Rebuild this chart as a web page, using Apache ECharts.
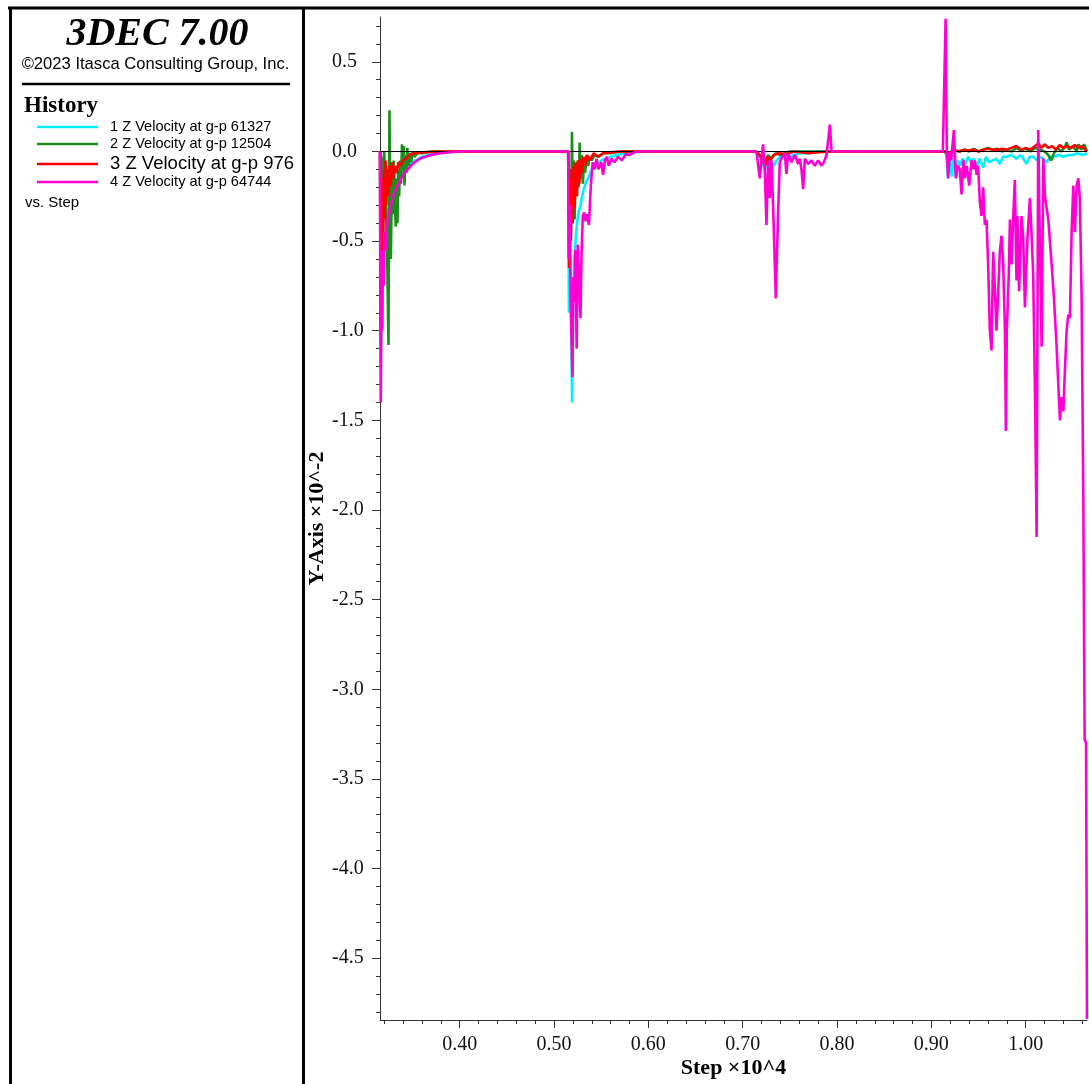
<!DOCTYPE html>
<html>
<head>
<meta charset="utf-8">
<script src="https://cdn.jsdelivr.net/npm/echarts@6/dist/echarts.min.js"></script>
<style>
html,body{margin:0;padding:0;background:#fff;}
#chart{width:1089px;height:1084px;}
</style>
</head>
<body>
<div id="chart"></div>
<script>
// ---------- data (Step x10^4, Y-Axis x10^-2) ----------
const seriesNames = ['1 Z Velocity at g-p 61327','2 Z Velocity at g-p 12504','3 Z Velocity at g-p 976','4 Z Velocity at g-p 64744'];
const seriesColors = ['#00f0ff','#1b8f1b','#ff0000','#ff00d2'];

const xMajorTicks = [0.40,0.50,0.60,0.70,0.80,0.90,1.00];
const xMinorTicks = [0.32,0.34,0.36,0.38,0.40,0.42,0.44,0.46,0.48,0.50,0.52,0.54,0.56,0.58,0.60,0.62,0.64,0.66,0.68,0.70,0.72,0.74,0.76,0.78,0.80,0.82,0.84,0.86,0.88,0.90,0.92,0.94,0.96,0.98,1.00,1.02,1.04,1.06];
const yMajorTicks = [-4.5,-4.0,-3.5,-3.0,-2.5,-2.0,-1.5,-1.0,-0.5,0.0,0.5];
const yMinorTicks = [-4.8,-4.7,-4.6,-4.5,-4.4,-4.3,-4.2,-4.1,-4.0,-3.9,-3.8,-3.7,-3.6,-3.5,-3.4,-3.3,-3.2,-3.1,-3.0,-2.9,-2.8,-2.7,-2.6,-2.5,-2.4,-2.3,-2.2,-2.1,-2.0,-1.9,-1.8,-1.7,-1.6,-1.5,-1.4,-1.3,-1.2,-1.1,-1.0,-0.9,-0.8,-0.7,-0.6,-0.5,-0.4,-0.3,-0.2,-0.1,0.0,0.1,0.2,0.3,0.4,0.5,0.6,0.7];

const cyanData = [
[0.3155,0],[0.3160,-0.50],[0.3166,-1.20],[0.3172,-0.80],[0.3180,-0.95],[0.3190,-0.60],[0.3200,-0.50],[0.3215,-0.42],[0.3240,-0.33],[0.3270,-0.27],[0.3300,-0.22],[0.3350,-0.15],[0.3400,-0.11],[0.3500,-0.06],[0.3600,-0.03],[0.3700,-0.015],[0.3800,-0.006],[0.4000,0],
[0.5150,0],[0.5158,-0.90],[0.5170,-0.50],[0.5192,-1.40],[0.5202,-0.80],[0.5215,-0.60],[0.5235,-0.45],[0.5255,-0.35],[0.5280,-0.30],[0.5310,-0.22],[0.5340,-0.17],[0.5370,-0.14],[0.5400,-0.10],[0.5450,-0.07],[0.5500,-0.05],[0.5600,-0.03],[0.5700,-0.015],[0.5800,-0.006],[0.6000,0],
[0.7140,0],[0.7180,-0.03],[0.7210,-0.07],[0.7240,-0.10],[0.7260,-0.04],[0.7280,-0.12],[0.7300,-0.06],[0.7330,-0.08],[0.7360,-0.05],[0.7400,-0.03],[0.7450,-0.02],[0.7500,-0.03],[0.7600,-0.01],[0.7700,-0.01],[0.7800,0],
[0.9122,0],[0.9151,0],[0.9164,-0.05],[0.9178,-0.15],[0.9196,-0.03],[0.9217,-0.14],[0.9239,-0.02],[0.9260,-0.14],[0.9281,-0.05],[0.9302,-0.08],[0.9330,-0.04],[0.9360,-0.07],[0.9390,-0.03],[0.9420,-0.06],[0.9450,-0.04],[0.9480,-0.09],[0.9510,-0.04],[0.9549,-0.09],[0.9580,-0.03],[0.9610,-0.06],[0.9650,-0.05],[0.9690,-0.04],[0.9726,-0.07],[0.9760,-0.03],[0.9800,-0.03],[0.9850,-0.02],[0.9900,-0.04],[0.9950,-0.02],[1.0010,-0.07],[1.0040,-0.03],[1.0080,-0.03],[1.0120,-0.05],[1.0160,-0.03],[1.0222,-0.06],[1.0260,-0.03],[1.0300,-0.03],[1.0350,-0.02],[1.0400,-0.03],[1.0450,-0.02],[1.0500,-0.02],[1.0550,-0.01],[1.0600,-0.02],[1.0650,-0.01]
];

const greenData = [
[0.3155,0],[0.3175,-0.05],[0.3190,-0.30],[0.3200,0.0],[0.3215,-0.25],[0.3230,-0.55],[0.3245,-1.08],[0.3255,0.23],[0.3262,-0.15],[0.3270,-0.60],[0.3280,-0.20],[0.3290,-0.35],[0.3300,-0.05],[0.3310,-0.25],[0.3322,-0.42],[0.3332,-0.15],[0.3340,-0.40],[0.3350,-0.10],[0.3358,-0.25],[0.3368,-0.05],[0.3378,-0.18],[0.3388,0.04],[0.3396,-0.10],[0.3405,0.03],[0.3415,-0.19],[0.3425,-0.02],[0.3435,-0.12],[0.3445,0.02],[0.3458,-0.08],[0.3470,-0.01],[0.3485,-0.06],[0.3500,0.0],[0.3520,-0.03],[0.3550,-0.01],[0.3600,-0.01],[0.3700,0],[0.4000,0],
[0.5150,0],[0.5160,-0.30],[0.5170,-0.10],[0.5180,-0.45],[0.5190,0.11],[0.5198,-0.30],[0.5208,-0.05],[0.5218,-0.38],[0.5230,-0.10],[0.5242,-0.25],[0.5252,-0.05],[0.5262,-0.20],[0.5272,0.05],[0.5282,-0.15],[0.5292,-0.02],[0.5305,-0.18],[0.5318,-0.06],[0.5330,-0.12],[0.5345,-0.02],[0.5360,-0.08],[0.5380,-0.03],[0.5400,-0.05],[0.5430,-0.02],[0.5470,-0.03],[0.5520,-0.01],[0.5600,-0.01],[0.5700,0],
[0.7140,0],[0.7200,-0.03],[0.7240,-0.06],[0.7270,-0.02],[0.7300,-0.04],[0.7350,-0.01],[0.7400,-0.02],[0.7500,0],
[0.9122,0],[0.9180,-0.01],[0.9250,0.005],[0.9300,0.0],[0.9350,0.01],[0.9400,0.0],[0.9450,0.015],[0.9500,0.0],[0.9550,0.01],[0.9600,0.02],[0.9620,0.03],[0.9650,0.01],[0.9700,0.015],[0.9750,0.0],[0.9800,0.01],[0.9850,0.0],[0.9900,0.02],[0.9950,0.005],[1.0000,0.015],[1.0050,0.0],[1.0100,0.02],[1.0150,0.01],[1.0200,0.0],[1.0240,-0.02],[1.0270,-0.05],[1.0300,-0.01],[1.0340,0.02],[1.0380,0.0],[1.0420,0.03],[1.0434,0.05],[1.0460,0.01],[1.0500,0.03],[1.0540,0.0],[1.0560,0.04],[1.0590,0.01],[1.0620,0.04],[1.0650,0.0]
];

const redData = [
[0.3155,0],[0.3160,-0.75],[0.3168,-0.20],[0.3175,-0.55],[0.3183,-0.15],[0.3190,-0.45],[0.3198,-0.10],[0.3206,-0.38],[0.3214,-0.05],[0.3222,-0.30],[0.3232,-0.10],[0.3242,-0.25],[0.3255,-0.08],[0.3268,-0.20],[0.3282,-0.06],[0.3296,-0.15],[0.3312,-0.08],[0.3330,-0.12],[0.3350,-0.06],[0.3370,-0.08],[0.3400,-0.05],[0.3430,-0.04],[0.3470,-0.02],[0.3520,-0.01],[0.3600,-0.005],[0.3800,0],[0.4000,0],
[0.5150,0],[0.5160,-0.65],[0.5168,-0.15],[0.5178,-0.50],[0.5188,-0.10],[0.5198,-0.40],[0.5208,-0.08],[0.5218,-0.32],[0.5230,-0.06],[0.5242,-0.25],[0.5255,-0.05],[0.5268,-0.18],[0.5282,-0.04],[0.5296,-0.12],[0.5312,-0.03],[0.5330,-0.08],[0.5350,-0.02],[0.5380,-0.05],[0.5420,-0.01],[0.5470,-0.03],[0.5520,-0.01],[0.5600,-0.005],[0.5700,0],
[0.7140,0],[0.7180,-0.02],[0.7210,-0.05],[0.7240,-0.08],[0.7260,-0.03],[0.7290,-0.05],[0.7330,-0.02],[0.7380,-0.01],[0.7450,-0.015],[0.7550,0],[0.7700,-0.01],[0.7900,0],
[0.9122,0],[0.9150,0],[0.9180,-0.01],[0.9220,0.0],[0.9260,0.005],[0.9300,0.0],[0.9350,0.01],[0.9400,0.005],[0.9450,0.01],[0.9500,0.0],[0.9550,0.01],[0.9600,0.015],[0.9650,0.01],[0.9700,0.01],[0.9750,0.015],[0.9800,0.01],[0.9850,0.02],[0.9900,0.03],[0.9950,0.01],[1.0000,0.02],[1.0050,0.01],[1.0100,0.03],[1.0133,0.045],[1.0170,0.02],[1.0200,0.04],[1.0240,0.02],[1.0280,0.03],[1.0320,0.01],[1.0360,0.035],[1.0400,0.02],[1.0440,0.03],[1.0480,0.02],[1.0520,0.035],[1.0560,0.02],[1.0600,0.03],[1.0630,0.01],[1.0650,0.0]
];

const magentaData = [
[0.3155,0],[0.3158,-0.90],[0.3163,-1.40],[0.3170,-0.85],[0.3178,-1.00],[0.3185,-0.55],[0.3195,-0.75],[0.3205,-0.45],[0.3215,-0.55],[0.3230,-0.40],[0.3250,-0.35],[0.3270,-0.30],[0.3300,-0.24],[0.3330,-0.20],[0.3370,-0.16],[0.3400,-0.13],[0.3450,-0.10],[0.3500,-0.07],[0.3550,-0.05],[0.3600,-0.035],[0.3700,-0.02],[0.3800,-0.01],[0.3900,-0.004],[0.4000,0],
[0.5150,0],[0.5156,-0.60],[0.5166,-0.30],[0.5177,-0.85],[0.5195,-1.26],[0.5205,-0.70],[0.5214,-0.84],[0.5226,-0.55],[0.5240,-1.10],[0.5252,-0.52],[0.5265,-0.70],[0.5280,-0.93],[0.5292,-0.56],[0.5305,-0.36],[0.5320,-0.34],[0.5335,-0.39],[0.5350,-0.35],[0.5370,-0.41],[0.5390,-0.19],[0.5410,-0.06],[0.5430,-0.10],[0.5450,-0.04],[0.5470,-0.10],[0.5500,-0.06],[0.5520,-0.13],[0.5540,-0.05],[0.5560,-0.03],[0.5580,-0.08],[0.5610,-0.04],[0.5640,-0.06],[0.5680,-0.03],[0.5720,-0.05],[0.5760,-0.015],[0.5800,-0.02],[0.5850,-0.005],[0.5900,0],
[0.7146,0],[0.7181,-0.15],[0.7216,0.04],[0.7234,-0.10],[0.7252,-0.41],[0.7270,-0.05],[0.7287,-0.26],[0.7305,-0.05],[0.7322,-0.30],[0.7351,-0.82],[0.7375,-0.35],[0.7393,-0.06],[0.7411,-0.04],[0.7446,-0.01],[0.7464,-0.125],[0.7482,-0.01],[0.7517,-0.06],[0.7553,-0.02],[0.7588,-0.07],[0.7605,-0.04],[0.7623,-0.10],[0.7641,-0.21],[0.7659,-0.04],[0.7694,-0.07],[0.7729,-0.05],[0.7765,-0.08],[0.7800,-0.05],[0.7836,-0.08],[0.7860,-0.06],[0.7889,-0.02],[0.7906,-0.03],[0.7924,0.15],[0.7942,0.0],[0.8101,0.0],[0.8118,0.01],[0.8136,0],
[0.9122,0],[0.9138,0.0],[0.9151,0.74],[0.9164,0.0],[0.9178,-0.15],[0.9196,0.0],[0.9210,-0.05],[0.9239,0.12],[0.9260,-0.15],[0.9281,-0.08],[0.9302,-0.10],[0.9320,-0.24],[0.9340,-0.05],[0.9355,-0.15],[0.9376,-0.08],[0.9401,-0.19],[0.9426,-0.05],[0.9443,-0.10],[0.9461,-0.05],[0.9479,-0.13],[0.9496,-0.08],[0.9514,-0.28],[0.9532,-0.36],[0.9549,-0.20],[0.9567,-0.41],[0.9585,-0.38],[0.9602,-0.63],[0.9620,-1.00],[0.9638,-1.11],[0.9655,-0.56],[0.9673,-0.76],[0.9691,-1.00],[0.9709,-0.78],[0.9726,-0.56],[0.9744,-0.47],[0.9762,-0.63],[0.9780,-1.00],[0.9790,-1.56],[0.9800,-1.00],[0.9820,-0.70],[0.9833,-0.38],[0.9850,-0.63],[0.9867,-0.38],[0.9885,-0.16],[0.9903,-0.72],[0.9912,-0.36],[0.9930,-0.78],[0.9956,-0.36],[0.9973,-0.47],[0.9992,-0.87],[1.0020,-0.47],[1.0045,-0.26],[1.0063,-0.47],[1.0080,-0.69],[1.0100,-1.40],[1.0116,-2.15],[1.0133,0.12],[1.0150,-0.50],[1.0169,-1.09],[1.0187,-0.04],[1.0204,-0.25],[1.0240,-0.38],[1.0275,-0.63],[1.0300,-0.82],[1.0328,-1.09],[1.0363,-1.50],[1.0381,-1.37],[1.0399,-1.45],[1.0416,-1.22],[1.0434,-1.00],[1.0452,-0.91],[1.0469,-0.93],[1.0487,-0.45],[1.0505,-0.19],[1.0522,-0.45],[1.0540,-0.19],[1.0558,-0.15],[1.0575,-0.27],[1.0593,-0.82],[1.0611,-1.93],[1.0625,-3.28],[1.0640,-3.30],[1.0650,-4.84]
];

const seriesData = [cyanData, greenData, redData, magentaData];

// ---------- chart ----------
const SERIF = "'Liberation Serif', 'Times New Roman', serif";
const SANS = "'Liberation Sans', Arial, sans-serif";
const X_MIN = 0.3155, X_MAX = 1.065, Y_MIN = -4.845, Y_MAX = 0.75;

const chart = echarts.init(document.getElementById('chart'), null, {renderer: 'canvas'});

const legendY = [127, 144, 164, 182];
const legendFont = [14.6, 14.6, 18.5, 14.6];

const graphics = [
  {type:'line', shape:{x1:8, y1:8, x2:1089, y2:8}, style:{stroke:'#000', lineWidth:3}},
  {type:'line', shape:{x1:10.5, y1:7, x2:10.5, y2:1084}, style:{stroke:'#000', lineWidth:3}},
  {type:'line', shape:{x1:303.5, y1:7, x2:303.5, y2:1084}, style:{stroke:'#000', lineWidth:3}},
  {type:'line', shape:{x1:22, y1:84, x2:290, y2:84}, style:{stroke:'#000', lineWidth:2.7}},
  {type:'text', x:157.5, y:35, style:{text:'3DEC 7.00', font:"italic bold 40px " + SERIF, fill:'#000', align:'center', verticalAlign:'middle'}},
  {type:'text', x:155.5, y:64.5, style:{text:'©2023 Itasca Consulting Group, Inc.', font:"16.6px " + SANS, fill:'#000', align:'center', verticalAlign:'middle'}},
  {type:'text', x:24, y:106, style:{text:'History', font:"bold 23px " + SERIF, fill:'#000', align:'left', verticalAlign:'middle'}},
  {type:'text', x:25, y:203, style:{text:'vs. Step', font:"15px " + SANS, fill:'#000', align:'left', verticalAlign:'middle'}}
];
seriesNames.forEach(function(n, i){
  graphics.push({type:'line', shape:{x1:37, y1:legendY[i], x2:98, y2:legendY[i]}, style:{stroke:seriesColors[i], lineWidth:2.7}});
  graphics.push({type:'text', x:110, y:legendY[i], style:{text:n, font:legendFont[i] + "px " + SANS, fill:'#000', align:'left', verticalAlign:'middle'}});
});

const series = seriesNames.map(function(n, i){
  const s = {
    name: n, type:'line', xAxisIndex:0, yAxisIndex:0,
    data: seriesData[i], showSymbol:false, symbol:'none', clip:true,
    lineStyle:{color:seriesColors[i], width:2.6}, itemStyle:{color:seriesColors[i]},
    z: 2 + i
  };
  if (i === 0) {
    s.markLine = {silent:true, symbol:'none', label:{show:false}, animation:false,
      lineStyle:{color:'#000', width:1, type:'solid'}, data:[{yAxis:0}]};
  }
  return s;
});

const option = {
  backgroundColor:'#ffffff',
  animation:false,
  grid:{left:380, top:17, width:707, height:1010},
  xAxis:[
    {type:'value', min:X_MIN, max:X_MAX, position:'bottom',
     axisLine:{show:true, onZero:false, lineStyle:{color:'#333', width:1}},
     axisTick:{show:true, customValues:xMajorTicks, length:8, lineStyle:{color:'#333'}},
     axisLabel:{show:true, customValues:xMajorTicks, formatter:function(v){return v.toFixed(2);}, fontFamily:SERIF, fontSize:20, color:'#111', margin:15},
     splitLine:{show:false},
     name:'Step ×10^4', nameLocation:'middle', nameGap:37, nameMoveOverlap:false,
     nameTextStyle:{fontFamily:SERIF, fontWeight:'bold', fontSize:22, color:'#000'}},
    {type:'value', min:X_MIN, max:X_MAX, position:'bottom',
     axisLine:{show:false, onZero:false},
     axisTick:{show:true, customValues:xMinorTicks, length:4, lineStyle:{color:'#333'}},
     axisLabel:{show:false}, splitLine:{show:false}}
  ],
  yAxis:[
    {type:'value', min:Y_MIN, max:Y_MAX, position:'left',
     axisLine:{show:true, onZero:false, lineStyle:{color:'#333', width:1}},
     axisTick:{show:true, customValues:yMajorTicks, length:8, lineStyle:{color:'#333'}},
     axisLabel:{show:true, customValues:yMajorTicks, formatter:function(v){return v.toFixed(1);}, fontFamily:SERIF, fontSize:20, color:'#111', margin:48, align:'left', padding:[6,0,0,0]},
     splitLine:{show:false},
     name:'Y-Axis ×10^-2', nameLocation:'middle', nameGap:52, nameMoveOverlap:false,
     nameTextStyle:{fontFamily:SERIF, fontWeight:'bold', fontSize:22, color:'#000'}},
    {type:'value', min:Y_MIN, max:Y_MAX, position:'left',
     axisLine:{show:false, onZero:false},
     axisTick:{show:true, customValues:yMinorTicks, length:4, lineStyle:{color:'#333'}},
     axisLabel:{show:false}, splitLine:{show:false}}
  ],
  graphic: graphics,
  series: series
};
chart.setOption(option);
</script>
</body>
</html>
